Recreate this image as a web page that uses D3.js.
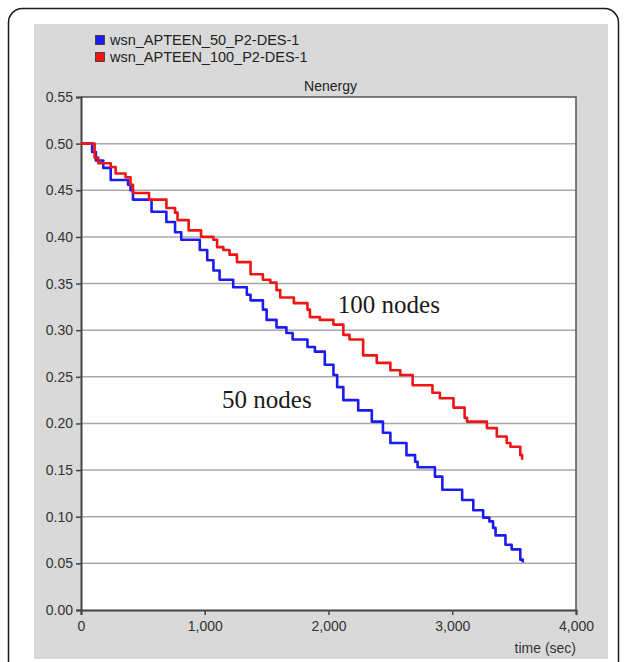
<!DOCTYPE html>
<html>
<head>
<meta charset="utf-8">
<script src="https://cdn.jsdelivr.net/npm/d3@7"></script>
<style>
  body { margin: 0; background: #fff; }
</style>
</head>
<body>
<div class="vis"></div>
<script>
// series names
const seriesNames = ["wsn_APTEEN_50_P2-DES-1", "wsn_APTEEN_100_P2-DES-1"];
const seriesColors = ["#1c1cf0", "#f01414"];

// 50 nodes (blue) step series: time (sec) / energy
const time50 = [0, 90, 120, 180, 240, 380, 400, 420, 570, 690, 760, 810, 960, 1020, 1070, 1120,
  1230, 1340, 1370, 1470, 1500, 1580, 1660, 1710, 1830, 1890, 1970, 2040, 2070, 2120, 2240,
  2350, 2440, 2500, 2630, 2700, 2720, 2860, 2920, 3080, 3170, 3250, 3300, 3330, 3350, 3430,
  3480, 3550, 3570];
const energy50 = [0.500, 0.491, 0.482, 0.474, 0.461, 0.456, 0.450, 0.440, 0.427, 0.416, 0.405,
  0.397, 0.386, 0.375, 0.364, 0.354, 0.346, 0.338, 0.332, 0.322, 0.311, 0.303, 0.297, 0.290,
  0.282, 0.277, 0.263, 0.252, 0.239, 0.225, 0.214, 0.202, 0.190, 0.179, 0.166, 0.159, 0.153,
  0.143, 0.129, 0.118, 0.107, 0.099, 0.095, 0.088, 0.080, 0.070, 0.065, 0.054, 0.051];

// 100 nodes (red) step series
const time100 = [0, 110, 140, 240, 280, 360, 400, 420, 550, 690, 760, 780, 870, 970, 1070, 1100,
  1150, 1200, 1260, 1370, 1470, 1530, 1580, 1610, 1720, 1830, 1850, 1930, 2040, 2120, 2170, 2280,
  2390, 2500, 2580, 2680, 2840, 2900, 3010, 3100, 3120, 3280, 3360, 3440, 3470, 3550, 3565];
const energy100 = [0.500, 0.485, 0.479, 0.475, 0.468, 0.464, 0.456, 0.447, 0.440, 0.431, 0.426,
  0.418, 0.407, 0.400, 0.397, 0.389, 0.386, 0.381, 0.373, 0.360, 0.354, 0.351, 0.343, 0.335,
  0.329, 0.322, 0.314, 0.311, 0.306, 0.295, 0.290, 0.273, 0.265, 0.257, 0.252, 0.241, 0.233,
  0.227, 0.217, 0.206, 0.202, 0.195, 0.186, 0.179, 0.175, 0.166, 0.161];

// axis ticks
const xTicks = [0, 1000, 2000, 3000, 4000];
const yTicks = [0, 0.05, 0.10, 0.15, 0.20, 0.25, 0.30, 0.35, 0.40, 0.45, 0.50, 0.55];

// annotations [label, time, energy]
const notes = [["100 nodes", 2075, 0.318], ["50 nodes", 1140, 0.2165]];

const sans = "'Liberation Sans', Arial, sans-serif";
const serif = "'Liberation Serif', 'Times New Roman', serif";

const W = 625, H = 662;
var margin = {top: 97, right: 49, bottom: 52, left: 81};
let width = W - margin.left - margin.right;
let height = H - margin.top - margin.bottom;

var root = d3.select(".vis")
  .append("svg")
  .attr("width", W)
  .attr("height", H);

// outer frame and grey panel
root.append("rect")
  .attr("x", 8.5).attr("y", 8.5)
  .attr("width", 610).attr("height", 700)
  .attr("rx", 14)
  .attr("fill", "#fff")
  .attr("stroke", "#1a1a1a")
  .attr("stroke-width", 1.5);
root.append("rect")
  .attr("x", 34).attr("y", 24)
  .attr("width", 574).attr("height", 635)
  .attr("fill", "#d9d9d9");

// legend
seriesNames.forEach((name, i) => {
  root.append("rect")
    .attr("x", 95.5).attr("y", 35.5 + i * 17)
    .attr("width", 9).attr("height", 9)
    .attr("fill", seriesColors[i])
    .attr("stroke", "#333").attr("stroke-width", 0.8);
  root.append("text")
    .attr("x", 110).attr("y", 45 + i * 17)
    .style("font-family", sans)
    .style("font-size", "14.5px")
    .attr("fill", "#222")
    .text(name);
});

var svg = root.append("g")
  .attr("transform", "translate(" + margin.left + "," + margin.top + ")");

var x = d3.scaleLinear().domain([0, 4000]).range([0, width]);
var y = d3.scaleLinear().domain([0, 0.55]).range([height, 0]);

svg.append("rect")
  .attr("width", width).attr("height", height)
  .attr("fill", "#fff");

// title
svg.append("text")
  .attr("x", width / 2 + 2).attr("y", -6)
  .attr("text-anchor", "middle")
  .style("font-family", sans)
  .style("font-size", "14px")
  .attr("fill", "#222")
  .text("Nenergy");

// grid lines
svg.selectAll(".grid")
  .data(yTicks.slice(1, -1))
  .enter()
  .append("line")
  .attr("x1", 0).attr("x2", width)
  .attr("y1", d => y(d)).attr("y2", d => y(d))
  .attr("stroke", "#a8a8a8")
  .attr("stroke-width", 1.5);

// frame top / right
svg.append("path")
  .attr("d", "M0,0H" + width + "V" + height)
  .attr("fill", "none")
  .attr("stroke", "#555")
  .attr("stroke-width", 1.5);

// axes
var yAxis = svg.append("g")
  .call(d3.axisLeft(y).tickValues(yTicks).tickFormat(d3.format(".2f")).tickSize(5).tickPadding(3));
var xAxis = svg.append("g")
  .attr("transform", "translate(0," + height + ")")
  .call(d3.axisBottom(x).tickValues(xTicks).tickFormat(d3.format(",")).tickSize(5).tickPadding(6));
[xAxis, yAxis].forEach(a => {
  a.select(".domain").attr("stroke", "#444").attr("stroke-width", 2);
  a.selectAll(".tick line").attr("stroke", "#444").attr("stroke-width", 1.5);
  a.selectAll("text")
    .style("font-family", sans)
    .style("font-size", "14px")
    .attr("fill", "#333");
});

svg.append("text")
  .attr("x", width).attr("y", height + 43)
  .attr("text-anchor", "end")
  .style("font-family", sans)
  .style("font-size", "14px")
  .attr("fill", "#333")
  .text("time (sec)");

// step lines
var line = d3.line()
  .x(d => x(d[0]))
  .y(d => y(d[1]))
  .curve(d3.curveStepAfter);

var series = [
  d3.zip(time50, energy50),
  d3.zip(time100, energy100)
];
svg.selectAll(".series")
  .data(series)
  .enter()
  .append("path")
  .attr("d", d => line(d))
  .attr("fill", "none")
  .attr("stroke", (d, i) => seriesColors[i])
  .attr("stroke-width", 2.6)
  .attr("stroke-linejoin", "round");

// annotations
svg.selectAll(".note")
  .data(notes)
  .enter()
  .append("text")
  .attr("x", d => x(d[1]))
  .attr("y", d => y(d[2]))
  .style("font-family", serif)
  .style("font-size", "25px")
  .attr("fill", "#1a1a1a")
  .text(d => d[0]);
</script>
</body>
</html>
